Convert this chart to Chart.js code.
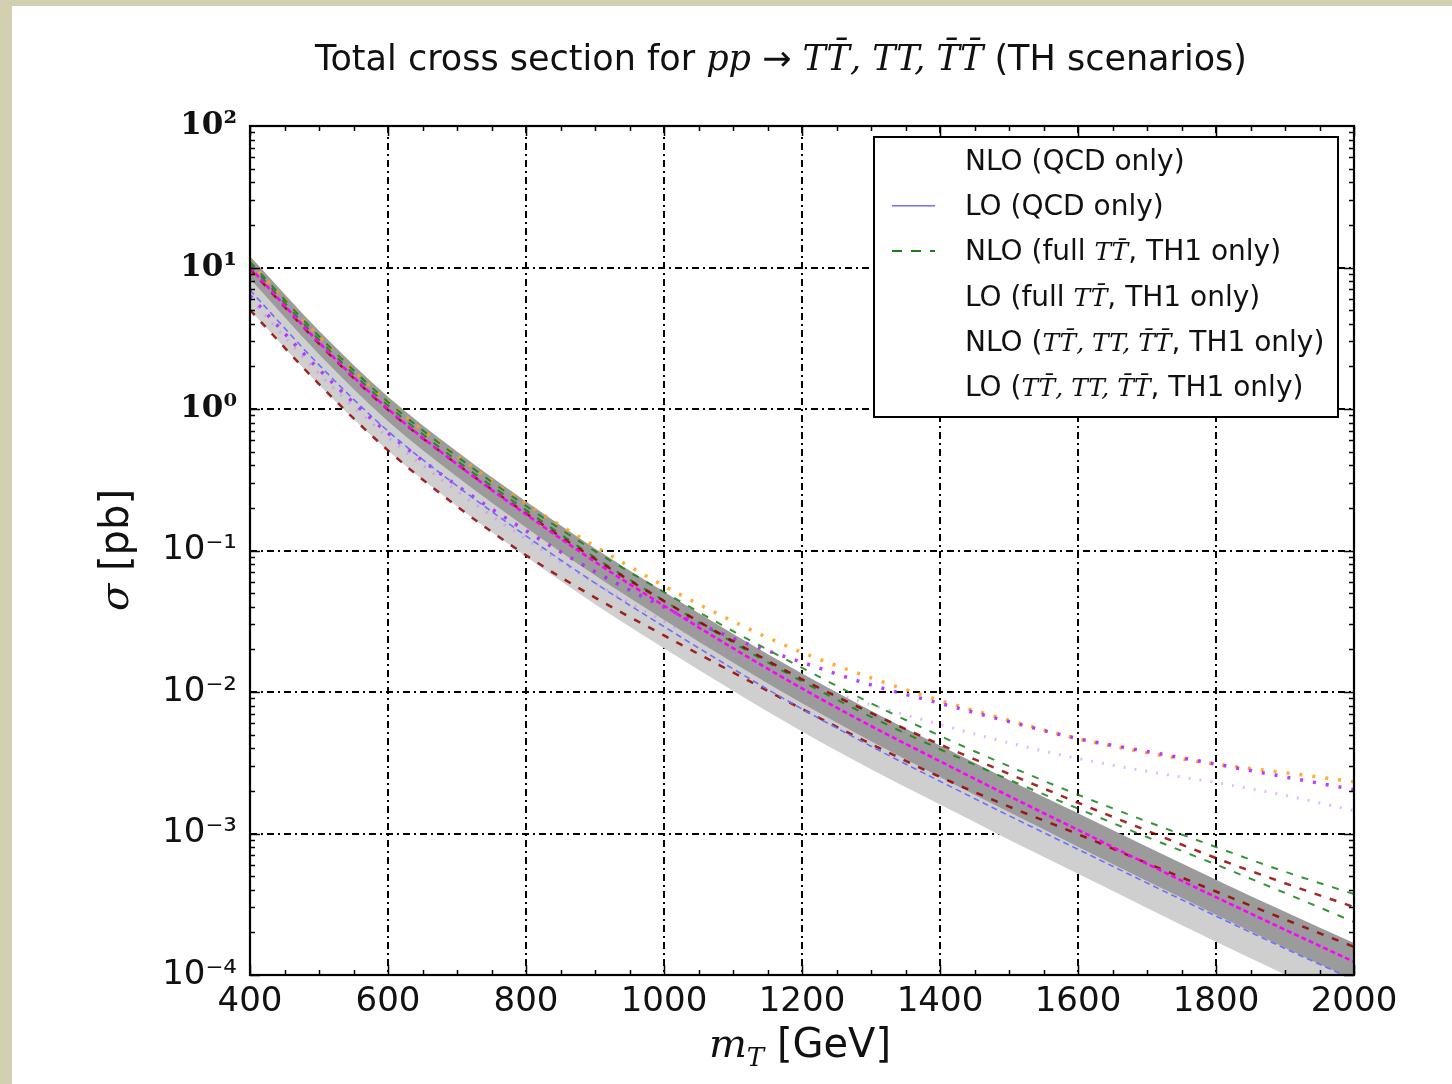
<!DOCTYPE html>
<html>
<head>
<meta charset="utf-8">
<script src="https://cdn.jsdelivr.net/npm/chart.js@4.4.1/dist/chart.umd.min.js"></script>
<style>
  html, body { margin: 0; padding: 0; background: #fff; }
  #wrap { width: 1452px; height: 1084px; }
</style>
</head>
<body>
<div id="wrap"><canvas id="myChart" width="1452" height="1084"></canvas></div>
<script>
const Chart = window.Chart;

// heavy-quark mass in GeV
const masses = [400, 500, 600, 700, 800, 900, 1000, 1100, 1200, 1300, 1400, 1500, 1600, 1700, 1800, 1900, 2000];

// cross sections in pb
const nloQcd     = [10, 2.95, 1.0, 0.407, 0.180, 0.0832, 0.0407, 0.0204, 0.0106, 0.00575, 0.00324, 0.00184, 0.00106, 0.00061, 0.000355, 0.000209, 0.000124];
const nloQcdUp   = [12.0, 3.57, 1.22, 0.500, 0.222, 0.1035, 0.0512, 0.0258, 0.0135, 0.00738, 0.00418, 0.00239, 0.00139, 0.000805, 0.000472, 0.00028, 0.000168];
const nloQcdDown = [8.32, 2.44, 0.82, 0.332, 0.1455, 0.0668, 0.0324, 0.01614, 0.00832, 0.00449, 0.00251, 0.001416, 0.000807, 0.000461, 0.000267, 0.000156, 0.0000923];
const loQcd      = [6.92, 2.05, 0.698, 0.286, 0.1268, 0.0589, 0.029, 0.01459, 0.00759, 0.00414, 0.00234, 0.001337, 0.000773, 0.000447, 0.000261, 0.000154, 0.0000923];
const loQcdUp    = [9.55, 2.83, 0.964, 0.397, 0.1774, 0.0832, 0.0412, 0.0209, 0.01096, 0.00603, 0.00343, 0.00198, 0.00115, 0.00067, 0.000394, 0.000236, 0.000143];
const loQcdDown  = [5.01, 1.486, 0.506, 0.2056, 0.0906, 0.0417, 0.0204, 0.01019, 0.00525, 0.00284, 0.0016, 0.000904, 0.000519, 0.000298, 0.000172, 0.000101, 0.0000596];
const nloFullA   = [10.96, 3.27, 1.122, 0.462, 0.2065, 0.0989, 0.0509, 0.0269, 0.01483, 0.00832, 0.0049, 0.00299, 0.00188, 0.001216, 0.000802, 0.000537, 0.000373];
const nloFullB   = [10.47, 3.09, 1.059, 0.4315, 0.1928, 0.0891, 0.0442, 0.0224, 0.01189, 0.00668, 0.00394, 0.0024, 0.0015, 0.000944, 0.000603, 0.00038, 0.000237];
const loFullA    = [9.77, 2.90, 0.986, 0.408, 0.1832, 0.0871, 0.0439, 0.02286, 0.0123, 0.00711, 0.00426, 0.00264, 0.00165, 0.001047, 0.00067, 0.000445, 0.000302];
const loFullB    = [5.0, 1.50, 0.51, 0.205, 0.0925, 0.0465, 0.0251, 0.01377, 0.00759, 0.00429, 0.00251, 0.00155, 0.000989, 0.000617, 0.000389, 0.000247, 0.000158];
const nloMixed   = [10.96, 3.27, 1.122, 0.468, 0.214, 0.1072, 0.0562, 0.0316, 0.01905, 0.01259, 0.00871, 0.00631, 0.00468, 0.00372, 0.00309, 0.00269, 0.00232];
const loMixedA   = [6.31, 1.905, 0.676, 0.288, 0.138, 0.0708, 0.0398, 0.024, 0.01622, 0.01122, 0.00832, 0.00617, 0.00468, 0.0038, 0.00309, 0.00251, 0.00204];
const loMixedB   = [6.03, 1.778, 0.631, 0.263, 0.1202, 0.0589, 0.0316, 0.0182, 0.01175, 0.00813, 0.00589, 0.00437, 0.00339, 0.00275, 0.00229, 0.00186, 0.00145];

// axis ticks
const xTicks = [400, 600, 800, 1000, 1200, 1400, 1600, 1800, 2000];
const yTicks = [1e-4, 1e-3, 1e-2, 1e-1, 1e0, 1e1, 1e2];
const yTickLabels = ['10\u207B\u2074', '10\u207B\u00B3', '10\u207B\u00B2', '10\u207B\u00B9', '10\u2070', '10\u00B9', '10\u00B2'];

const sans = '"DejaVu Sans", sans-serif';
const serif = '"DejaVu Serif", serif';

function series(values) {
  return masses.map((m, i) => ({ x: m, y: values[i] }));
}

function lineSet(label, values, color, width, dash, order) {
  return {
    label, data: series(values), borderColor: color, borderWidth: width, borderDash: dash,
    pointRadius: 0, fill: false, cubicInterpolationMode: 'monotone', order
  };
}

function bandSet(label, values, fillColor, target, order) {
  return {
    label, data: series(values), borderWidth: 0, borderColor: 'rgba(0,0,0,0)',
    backgroundColor: fillColor, pointRadius: 0, fill: target, cubicInterpolationMode: 'monotone', order
  };
}

const datasets = [
  bandSet('LO band up', loQcdUp, '#cfcfcf', '+1', 10),
  bandSet('LO band down', loQcdDown, '#cfcfcf', false, 10),
  bandSet('NLO band up', nloQcdUp, '#9b9b9b', '+1', 9),
  bandSet('NLO band down', nloQcdDown, '#9b9b9b', false, 9),
  lineSet('LO (TT, TH1) b', loMixedB, 'rgba(205,130,255,0.55)', 3, [2, 9], 5),
  lineSet('LO (TT, TH1) a', loMixedA, 'rgba(180,40,255,0.9)', 3.5, [3, 10], 5),
  lineSet('NLO (TT, TH1)', nloMixed, 'rgba(255,160,20,0.85)', 3.5, [3, 10], 5),
  lineSet('LO (full, TH1) b', loFullB, 'rgba(150,0,0,0.85)', 2.5, [7, 9], 4),
  lineSet('LO (full, TH1) a', loFullA, 'rgba(150,0,0,0.85)', 2.5, [7, 9], 4),
  lineSet('NLO (full, TH1) b', nloFullB, 'rgba(20,130,20,0.85)', 2, [7, 9], 4),
  lineSet('NLO (full, TH1) a', nloFullA, 'rgba(20,130,20,0.85)', 2, [7, 9], 4),
  lineSet('LO (QCD only)', loQcd, '#6e6eff', 1.6, [6, 4], 2),
  lineSet('NLO (QCD only)', nloQcd, '#ff00ff', 2.6, [5, 3], 1)
];

// legend rows: text parts and an optional handle style
const legendRows = [
  { parts: [['NLO (QCD only)', 0]], handle: null },
  { parts: [['LO (QCD only)', 0]], handle: { color: '#6e6eff', width: 1.6, dash: [] } },
  { parts: [['NLO (full ', 0], ['TT\u0304', 1], [', TH1 only)', 0]], handle: { color: '#1a7f1a', width: 2, dash: [10, 9] } },
  { parts: [['LO (full ', 0], ['TT\u0304', 1], [', TH1 only)', 0]], handle: null },
  { parts: [['NLO (', 0], ['TT\u0304, TT, T\u0304T\u0304', 1], [', TH1 only)', 0]], handle: null },
  { parts: [['LO (', 0], ['TT\u0304, TT, T\u0304T\u0304', 1], [', TH1 only)', 0]], handle: null }
];

function drawRich(ctx, parts, x, y, align) {
  let total = 0;
  parts.forEach(p => { ctx.font = p.f; p.w = ctx.measureText(p.t).width; total += p.w; });
  let cx = align === 'center' ? x - total / 2 : x;
  parts.forEach(p => { ctx.font = p.f; ctx.fillText(p.t, cx, y + (p.dy || 0)); cx += p.w; });
}

const pageBackground = {
  id: 'pageBackground',
  beforeDraw(chart) {
    const ctx = chart.ctx;
    ctx.save();
    ctx.fillStyle = '#d2d0b0';
    ctx.fillRect(0, 0, chart.width, chart.height);
    ctx.fillStyle = '#ffffff';
    ctx.fillRect(12, 6, chart.width - 12, chart.height - 6);
    ctx.restore();
  }
};

const frameAndTicks = {
  id: 'frameAndTicks',
  afterDatasetsDraw(chart) {
    const { ctx, chartArea: { left, right, top, bottom }, scales: { x, y } } = chart;
    ctx.save();
    ctx.strokeStyle = '#000';
    ctx.lineWidth = 1.5;
    ctx.beginPath();
    for (let m = xTicks[0]; m <= xTicks[xTicks.length - 1]; m += 50) {
      const px = Math.round(x.getPixelForValue(m)) + 0.5;
      const len = xTicks.includes(m) ? 10 : 5;
      ctx.moveTo(px, bottom); ctx.lineTo(px, bottom - len);
      ctx.moveTo(px, top); ctx.lineTo(px, top + len);
    }
    for (let d = 0; d < yTicks.length - 1; d++) {
      for (let k = 1; k <= 9; k++) {
        const py = Math.round(y.getPixelForValue(yTicks[d] * k)) + 0.5;
        const len = k === 1 ? 10 : 5;
        ctx.moveTo(left, py); ctx.lineTo(left + len, py);
        ctx.moveTo(right, py); ctx.lineTo(right - len, py);
      }
    }
    ctx.stroke();
    ctx.lineWidth = 2.2;
    ctx.strokeRect(left, top, right - left, bottom - top);
    ctx.restore();
  }
};

const annotations = {
  id: 'annotations',
  afterDraw(chart) {
    const ctx = chart.ctx;
    ctx.save();
    ctx.fillStyle = '#111';
    ctx.textBaseline = 'alphabetic';

    // title
    drawRich(ctx, [
      { t: 'Total cross section for ', f: '35px ' + sans },
      { t: 'pp', f: 'italic 35px ' + serif },
      { t: ' \u2192 ', f: '35px ' + sans },
      { t: 'TT\u0304, TT, T\u0304T\u0304', f: 'italic 35px ' + serif },
      { t: ' (TH scenarios)', f: '35px ' + sans }
    ], 781, 70, 'center');

    // x axis title
    drawRich(ctx, [
      { t: 'm', f: 'italic 40px ' + serif },
      { t: 'T', f: 'italic 26px ' + serif, dy: 9 },
      { t: ' [GeV]', f: '40px ' + sans }
    ], 800, 1057, 'center');

    // y axis title
    ctx.save();
    ctx.translate(118, 550);
    ctx.rotate(-Math.PI / 2);
    ctx.textBaseline = 'middle';
    drawRich(ctx, [
      { t: '\u03C3', f: 'italic 40px ' + serif },
      { t: ' [pb]', f: '40px ' + sans }
    ], 0, 0, 'center');
    ctx.restore();

    // legend
    const bx = 874, by = 137, bw = 464, bh = 280;
    ctx.fillStyle = '#fff';
    ctx.fillRect(bx, by, bw, bh);
    ctx.strokeStyle = '#000';
    ctx.lineWidth = 2;
    ctx.strokeRect(bx, by, bw, bh);
    legendRows.forEach((row, i) => {
      const cy = 160 + i * 45.2;
      if (row.handle) {
        ctx.save();
        ctx.strokeStyle = row.handle.color;
        ctx.lineWidth = row.handle.width;
        ctx.setLineDash(row.handle.dash);
        ctx.beginPath();
        ctx.moveTo(892, cy + 0.5); ctx.lineTo(935, cy + 0.5);
        ctx.stroke();
        ctx.restore();
      }
      ctx.fillStyle = '#111';
      const parts = row.parts.map(p => ({ t: p[0], f: p[1] ? 'italic 25px ' + serif : '28px ' + sans }));
      drawRich(ctx, parts, 965, cy + 10, 'left');
    });
    ctx.restore();
  }
};

function initChart(target) {
  return new Chart(target, {
    type: 'line',
    data: { datasets },
    options: {
      responsive: false,
      devicePixelRatio: 1,
      animation: false,
      layout: { padding: { top: 126, right: 98, left: 0, bottom: 0 } },
      plugins: { legend: { display: false }, title: { display: false }, tooltip: { enabled: false } },
      scales: {
        x: {
          type: 'linear', min: 400, max: 2000,
          afterBuildTicks: scale => { scale.ticks = xTicks.map(v => ({ value: v })); },
          afterFit: scale => { scale.height = 109; },
          ticks: {
            autoSkip: false, maxRotation: 0, padding: 7, color: '#111',
            font: { family: sans, size: 34 },
            callback: v => String(v)
          },
          grid: { color: '#000', lineWidth: 2, drawTicks: false },
          border: { display: false, dash: [7, 4, 2, 4] }
        },
        y: {
          type: 'logarithmic', min: 1e-4, max: 100,
          afterBuildTicks: scale => { scale.ticks = yTicks.map(v => ({ value: v, major: true })); },
          afterFit: scale => { scale.width = 250; },
          ticks: {
            autoSkip: false, padding: 13, color: '#111',
            font: ctx => (ctx.index >= 4
              ? { family: serif, size: 31, weight: 'bold' }
              : { family: sans, size: 34 }),
            callback: (v, i) => yTickLabels[i]
          },
          grid: { color: '#000', lineWidth: 2, drawTicks: false },
          border: { display: false, dash: [7, 4, 2, 4] }
        }
      }
    },
    plugins: [pageBackground, frameAndTicks, annotations]
  });
}

document.addEventListener('DOMContentLoaded', () => {
  initChart(document.querySelector('#myChart'));
});
</script>
</body>
</html>
